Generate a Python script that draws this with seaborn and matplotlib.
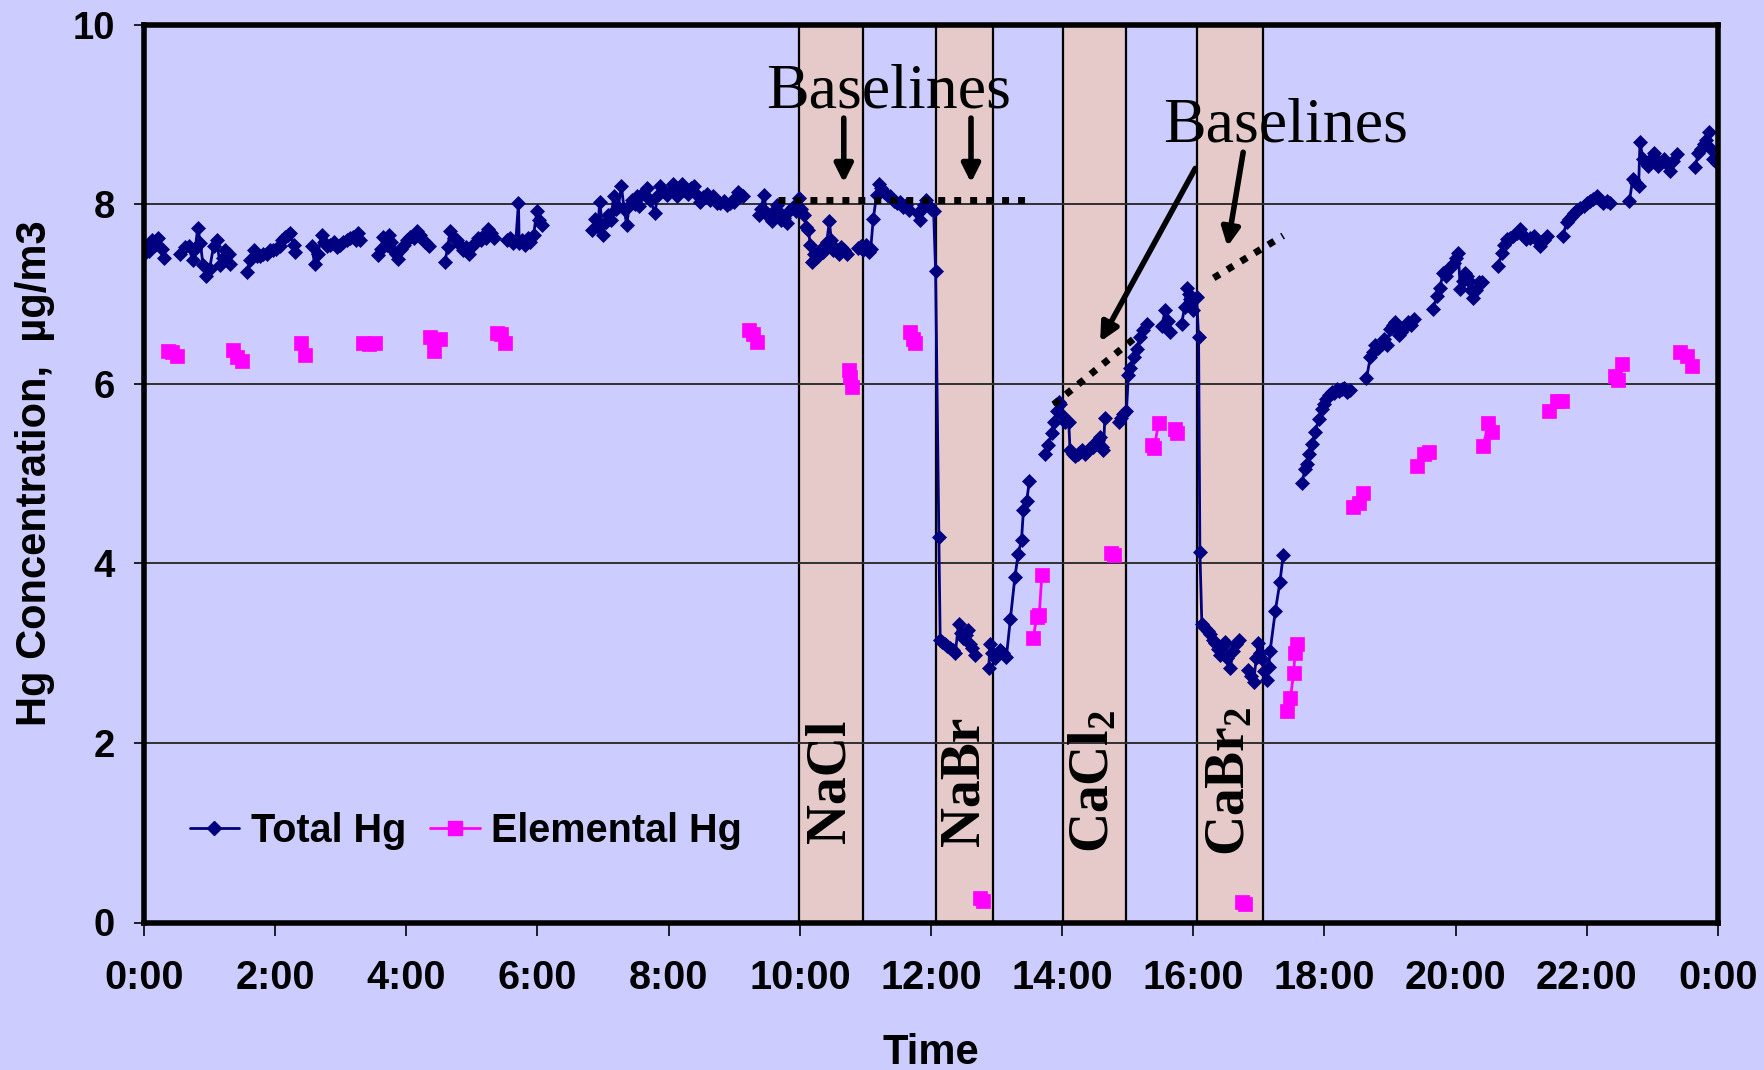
import numpy as np
import pandas as pd
import matplotlib
matplotlib.use("Agg")
import matplotlib.pyplot as plt
import seaborn as sns
from matplotlib.lines import Line2D

nan = np.nan

# ---------------- data (hours after midnight, ug/m3); nan = gap in the record
total_hours = [
    0.00, 0.04, 0.08, 0.12, 0.17, 0.22, 0.27, 0.31, nan,
    0.55, 0.62, 0.68, 0.74, 0.78, 0.82, 0.86, 0.90, 0.95, 1.00, 1.06, 1.11, 1.16, 1.20, 1.24, 1.29, 1.31, nan,
    1.57, 1.62, 1.67, 1.72, 1.77, 1.82, 1.87, 1.92, 1.97, 2.02, 2.07, 2.11, 2.15, 2.20, 2.23, 2.28, 2.30, nan,
    2.56, 2.60, 2.65, 2.71, 2.75, 2.79, 2.84, 2.89, 2.94, 2.99, 3.04, 3.09, 3.14, 3.19, 3.23, 3.27, 3.30, nan,
    3.57, 3.61, 3.65, 3.70, 3.73, 3.77, 3.80, 3.84, 3.88, 3.92, 3.96, 4.01, 4.06, 4.11, 4.16, 4.21, 4.23, 4.28, 4.34, nan,
    4.59, 4.63, 4.67, 4.72, 4.77, 4.82, 4.87, 4.91, 4.95, 4.99, 5.02, 5.06, 5.10, 5.14, 5.18, 5.22, 5.25, 5.29, 5.33, nan,
    5.53, 5.58, 5.63, 5.67, 5.71, 5.72, 5.77, 5.81, 5.85, 5.89, 5.94, 5.99, 6.03, 6.07, nan,
    6.83, 6.88, 6.92, 6.95, 7.00, 7.04, 7.08, 7.12, 7.16, 7.20, 7.23, 7.28, 7.32, 7.36, 7.40, 7.44, 7.48, 7.51,
    7.55, 7.60, 7.67, 7.72, 7.79, 7.83, 7.87, 7.92, 7.97, 8.02, 8.07, 8.12, 8.16, 8.20, 8.25, 8.30, 8.34, 8.38,
    8.43, 8.48, 8.53, 8.58, 8.63, 8.68, 8.73, 8.78, 8.84, 8.89, 8.94, 8.99, 9.03, 9.06, 9.10, 9.14, nan,
    9.37, 9.41, 9.45, 9.50, 9.54, 9.57, 9.61, 9.65, 9.69, 9.72, 9.76, 9.80, 9.85, 9.90, 9.94, 9.98, 10.02, 10.06,
    10.10, 10.13, 10.16, 10.18, 10.21, 10.25, 10.28, 10.32, 10.36, 10.41, 10.45, 10.48, 10.51, 10.55, 10.59,
    10.63, 10.67, 10.72, nan,
    10.89, 10.93, 10.97, 11.01, 11.05, 11.08, 11.12, 11.17, 11.20, 11.24, 11.28, 11.33, 11.38, 11.43, 11.48,
    11.53, 11.58, 11.62, 11.66, nan,
    11.80, 11.83, 11.87, 11.90, 11.93, 11.97, 12.00, 12.04, 12.07, 12.12, 12.14, 12.17, 12.21, 12.25, 12.29,
    12.33, 12.37, 12.42, 12.45, 12.49, 12.53, 12.57, 12.60, 12.62, 12.67, nan,
    12.88, 12.90, 12.93, 12.97, 13.00, 13.05, 13.10, 13.15, 13.21, 13.28, 13.33, 13.38, 13.41, 13.46, 13.50, nan,
    13.74, 13.79, 13.84, 13.88, 13.92, 13.95, 13.97, 14.00, 14.04, 14.10, 14.12, 14.16, 14.20, 14.24, 14.27,
    14.31, 14.35, 14.39, 14.43, 14.47, 14.50, 14.54, 14.58, 14.61, 14.63, 14.65, nan,
    14.86, 14.90, 14.93, 14.98, 15.01, 15.04, 15.09, 15.14, 15.19, 15.24, 15.29, nan,
    15.52, 15.57, 15.61, 15.65, nan,
    15.82, 15.87, 15.90, 15.93, 15.95, 16.00, 16.05, 16.08, 16.10, 16.13, 16.18, 16.22, 16.26, 16.30, 16.33,
    16.37, 16.41, 16.45, 16.48, 16.52, 16.56, 16.61, 16.65, 16.69, nan,
    16.84, 16.88, 16.92, 16.96, 16.99, 17.02, 17.04, 17.08, 17.12, 17.15, 17.17, 17.25, 17.32, 17.37, nan,
    17.66, 17.70, 17.73, 17.77, 17.81, 17.86, 17.91, 17.96, 18.00, 18.03, 18.07, 18.11, 18.15, 18.19, 18.22,
    18.26, 18.30, 18.34, 18.39, nan,
    18.64, 18.70, 18.74, 18.77, 18.82, 18.87, 18.91, 18.95, 19.00, 19.04, 19.08, 19.13, 19.17, 19.20, 19.24,
    19.28, 19.32, 19.36, nan,
    19.66, 19.71, 19.76, 19.81, 19.85, 19.89, 19.93, 19.97, 20.01, 20.04, 20.07, 20.11, 20.14, 20.17, 20.20,
    20.24, 20.27, 20.31, 20.35, 20.40, nan,
    20.65, 20.70, 20.74, 20.78, 20.83, 20.88, 20.93, 20.98, 21.03, 21.08, 21.13, 21.19, 21.24, 21.29, 21.34, 21.39, nan,
    21.64, 21.69, 21.73, 21.77, 21.81, 21.85, 21.90, 21.95, 22.00, 22.05, 22.10, 22.15, 22.20, 22.25, 22.30, 22.36, nan,
    22.65, 22.70, 22.75, 22.79, 22.81, 22.86, 22.90, 22.94, 22.98, 23.02, 23.06, 23.09, 23.13, 23.17, 23.22,
    23.27, 23.32, 23.37, nan,
    23.65, 23.70, 23.74, 23.78, 23.82, 23.86, 23.90, 23.93, 23.98,
]
total_hg = [
    7.45, 7.52, 7.48, 7.60, 7.55, 7.63, 7.50, 7.40, nan,
    7.45, 7.52, 7.53, 7.38, 7.50, 7.74, 7.57, 7.32, 7.20, 7.28, 7.53, 7.60, 7.32, 7.40, 7.49, 7.45, 7.34, nan,
    7.25, 7.38, 7.49, 7.42, 7.42, 7.45, 7.45, 7.49, 7.49, 7.50, 7.53, 7.60, 7.64, 7.66, 7.68, 7.55, 7.47, nan,
    7.53, 7.34, 7.45, 7.66, 7.58, 7.53, 7.55, 7.58, 7.52, 7.55, 7.58, 7.60, 7.62, 7.64, 7.60, 7.68, 7.60, nan,
    7.43, 7.50, 7.64, 7.55, 7.66, 7.58, 7.49, 7.45, 7.39, 7.50, 7.55, 7.60, 7.64, 7.62, 7.70, 7.66, 7.62, 7.58, 7.53, nan,
    7.36, 7.52, 7.70, 7.62, 7.60, 7.55, 7.49, 7.52, 7.45, 7.52, 7.55, 7.58, 7.62, 7.60, 7.66, 7.62, 7.72, 7.68, 7.62, nan,
    7.60, 7.62, 7.57, 7.60, 8.02, 7.57, 7.60, 7.55, 7.62, 7.58, 7.66, 7.92, 7.82, 7.77, nan,
    7.71, 7.84, 7.75, 8.03, 7.66, 7.80, 7.88, 7.82, 8.09, 7.95, 7.97, 8.20, 7.95, 7.77, 7.98, 8.05, 8.00, 8.09,
    7.98, 8.12, 8.18, 8.05, 7.90, 8.10, 8.20, 8.15, 8.10, 8.15, 8.23, 8.09, 8.18, 8.23, 8.15, 8.12, 8.18, 8.20,
    8.10, 8.03, 8.08, 8.12, 8.05, 8.09, 8.02, 8.01, 8.04, 7.99, 8.02, 8.03, 8.08, 8.14, 8.10, 8.09, nan,
    7.88, 7.95, 8.10, 7.90, 7.85, 7.81, 7.92, 7.99, 7.90, 7.83, 7.85, 7.79, 7.94, 7.97, 7.92, 8.07, 7.95, 7.88,
    7.75, 7.71, 7.55, 7.36, 7.45, 7.40, 7.42, 7.50, 7.47, 7.58, 7.81, 7.60, 7.49, 7.50, 7.45,
    7.52, 7.49, 7.45, nan,
    7.51, 7.53, 7.49, 7.55, 7.47, 7.50, 7.84, 8.10, 8.23, 8.18, 8.14, 8.10, 8.09, 8.04, 8.01,
    8.03, 7.97, 7.99, 7.94, nan,
    7.90, 7.82, 7.95, 7.99, 8.05, 7.98, 7.95, 7.92, 7.26, 4.29, 3.15, 3.13, 3.10, 3.08, 3.06,
    3.03, 3.00, 3.32, 3.22, 3.17, 3.20, 3.26, 3.10, 3.06, 2.98, nan,
    2.83, 3.10, 3.00, 2.95, 2.98, 3.04, 3.00, 2.96, 3.38, 3.85, 4.11, 4.26, 4.60, 4.70, 4.92, nan,
    5.22, 5.32, 5.45, 5.58, 5.70, 5.80, 5.77, 5.65, 5.58, 5.58, 5.26, 5.22, 5.20, 5.22, 5.24,
    5.26, 5.22, 5.26, 5.28, 5.30, 5.34, 5.38, 5.41, 5.30, 5.26, 5.62, nan,
    5.58, 5.62, 5.66, 5.70, 6.10, 6.18, 6.30, 6.39, 6.52, 6.60, 6.67, nan,
    6.64, 6.82, 6.70, 6.58, nan,
    6.67, 6.86, 7.07, 7.00, 6.94, 6.82, 6.97, 6.52, 4.13, 3.32, 3.28, 3.25, 3.21, 3.15, 3.11,
    3.05, 2.98, 3.08, 3.13, 2.95, 2.83, 3.02, 3.10, 3.15, nan,
    2.81, 2.75, 2.68, 2.95, 3.11, 3.00, 2.94, 2.80, 2.70, 2.85, 3.02, 3.47, 3.79, 4.09, nan,
    4.90, 5.05, 5.11, 5.22, 5.33, 5.46, 5.61, 5.72, 5.78, 5.83, 5.88, 5.91, 5.90, 5.94, 5.92,
    5.94, 5.95, 5.91, 5.93, nan,
    6.06, 6.30, 6.35, 6.43, 6.40, 6.44, 6.50, 6.43, 6.61, 6.65, 6.69, 6.54, 6.58, 6.61, 6.65,
    6.69, 6.66, 6.72, nan,
    6.83, 6.98, 7.07, 7.24, 7.20, 7.28, 7.30, 7.35, 7.40, 7.46, 7.06, 7.15, 7.24, 7.20, 7.15,
    7.05, 6.96, 7.05, 7.13, 7.13, nan,
    7.31, 7.46, 7.55, 7.61, 7.63, 7.65, 7.68, 7.72, 7.66, 7.61, 7.63, 7.65, 7.60, 7.54, 7.60, 7.65, nan,
    7.65, 7.80, 7.84, 7.87, 7.90, 7.94, 7.96, 7.98, 8.01, 8.04, 8.06, 8.09, 8.05, 8.02, 8.04, 8.02, nan,
    8.04, 8.28, 8.24, 8.20, 8.69, 8.50, 8.46, 8.43, 8.50, 8.57, 8.50, 8.43, 8.47, 8.50, 8.45,
    8.37, 8.48, 8.56, nan,
    8.41, 8.57, 8.62, 8.67, 8.72, 8.80, 8.62, 8.50, 8.46,
]

elem_hours = [
    0.37, 0.42, 0.50, nan, 1.36, 1.42, 1.49, nan, 2.40, 2.46, nan, 3.34, 3.43, 3.52, nan,
    4.36, 4.42, 4.51, nan, 5.38, 5.45, 5.51, nan, 9.22, 9.28, 9.34, nan, 10.75, 10.77, 10.79, nan,
    11.68, 11.72, 11.76, nan, 12.75, 12.79, nan, 13.56, 13.61, 13.65, 13.69, nan, 14.75, 14.79, nan,
    15.37, 15.40, 15.47, nan, 15.72, 15.75, nan, 16.74, 16.79, nan, 17.43, 17.48, 17.53, 17.55, 17.58, nan,
    18.44, 18.52, 18.59, nan, 19.41, 19.51, 19.59, nan, 20.42, 20.50, 20.55, nan,
    21.42, 21.54, 21.62, nan, 22.43, 22.48, 22.53, nan, 23.42, 23.52, 23.60,
]
elem_hg = [
    6.37, 6.36, 6.31, nan, 6.38, 6.30, 6.25, nan, 6.45, 6.32, nan, 6.45, 6.44, 6.45, nan,
    6.52, 6.37, 6.50, nan, 6.57, 6.55, 6.46, nan, 6.60, 6.56, 6.47, nan, 6.15, 6.08, 5.97, nan,
    6.58, 6.50, 6.45, nan, 0.27, 0.24, nan, 3.17, 3.40, 3.42, 3.87, nan, 4.12, 4.09, nan,
    5.32, 5.28, 5.56, nan, 5.50, 5.45, nan, 0.23, 0.21, nan, 2.36, 2.50, 2.78, 3.00, 3.10, nan,
    4.63, 4.67, 4.78, nan, 5.09, 5.22, 5.24, nan, 5.31, 5.56, 5.46, nan,
    5.70, 5.81, 5.81, nan, 6.09, 6.04, 6.22, nan, 6.35, 6.31, 6.20,
]

band_start = [9.99, 12.07, 14.02, 16.06]
band_end = [10.96, 12.95, 14.97, 17.06]
band_names = ["NaCl", "NaBr", "CaCl$_2$", "CaBr$_2$"]

xtick_hours = list(range(0, 25, 2))
xtick_labels = ["0:00", "2:00", "4:00", "6:00", "8:00", "10:00", "12:00",
                "14:00", "16:00", "18:00", "20:00", "22:00", "0:00"]
ytick_values = [0, 2, 4, 6, 8, 10]

# annotation geometry (hours, concentration)
baseline_flat = ([9.66, 13.45], [8.05, 8.05])
baseline_slope_a = ([13.87, 15.19], [5.77, 6.56])
baseline_slope_b = ([16.31, 17.37], [7.18, 7.65])
arrows = [((10.67, 8.96), (10.67, 8.24)),
          ((12.61, 8.96), (12.61, 8.24)),
          ((16.03, 8.40), (14.58, 6.47)),
          ((16.76, 8.58), (16.52, 7.53))]
baseline_text_pos = [(11.36, 9.25), (17.41, 8.87)]

# ---------------- styling
sns.set_theme(style="white")
plt.rcParams["font.family"] = ["Liberation Sans", "DejaVu Sans"]
plt.rcParams["mathtext.fontset"] = "custom"
plt.rcParams["mathtext.rm"] = "Liberation Serif:bold"
plt.rcParams["mathtext.default"] = "rm"
for key in ["text.color", "axes.labelcolor", "xtick.color", "ytick.color"]:
    plt.rcParams[key] = "black"

BG = "#CCCCFF"
BAND = "#E6CACA"
NAVY = "#000080"
MAG = "#FF00FF"

W, H = 1764, 1070
fig = plt.figure(figsize=(W / 100, H / 100), dpi=100, facecolor=BG)
ax = fig.add_axes([144 / W, 1 - 922.5 / H, (1718 - 144) / W, (922.5 - 24.75) / H])
ax.set_facecolor(BG)


def to_df(hours, vals):
    df = pd.DataFrame({"hour": hours, "hg": vals})
    df["seg"] = df["hour"].isna().cumsum()
    return df.dropna().reset_index(drop=True)


tot = to_df(total_hours, total_hg)
ele = to_df(elem_hours, elem_hg)

# bands
for s, e in zip(band_start, band_end):
    ax.axvspan(s, e, facecolor=BAND, edgecolor="black", lw=1.6, zorder=1)

# horizontal grid
for v in [2, 4, 6, 8]:
    ax.axhline(v, color="#303030", lw=1.4, zorder=1.5)

sns.lineplot(data=tot, x="hour", y="hg", units="seg", estimator=None, sort=False,
             color=NAVY, lw=2, marker="D", markersize=7.5, markeredgecolor=NAVY,
             markeredgewidth=0.5, legend=False, ax=ax, zorder=3)
sns.lineplot(data=ele, x="hour", y="hg", units="seg", estimator=None, sort=False,
             color=MAG, lw=2, marker="s", markersize=10, markeredgecolor=MAG,
             markeredgewidth=0.5, legend=False, ax=ax, zorder=3)

# dotted baselines
for xs, ys in [baseline_flat, baseline_slope_a, baseline_slope_b]:
    ax.plot(xs, ys, color="black", lw=5, linestyle=(0, (1, 1.3)),
            dash_capstyle="butt", zorder=4)

# arrows
for (x0, y0), (x1, y1) in arrows:
    ax.annotate("", xy=(x1, y1), xytext=(x0, y0),
                arrowprops=dict(arrowstyle="-|>,head_length=0.6,head_width=0.3",
                                mutation_scale=18, lw=4, color="black",
                                shrinkA=0, shrinkB=0), zorder=5)

for (x, y) in baseline_text_pos:
    ax.text(x, y, "Baselines", ha="center", va="center", fontsize=46, color="black",
            family=["Liberation Serif"], fontweight="normal", zorder=5)

# band labels
for s, e, name in zip(band_start, band_end, band_names):
    ax.text((s + e) / 2, 1.57, name, rotation=90, ha="center", va="center", color="black",
            fontsize=40, fontweight="bold", family=["Liberation Serif"], zorder=5)

# axes
ax.set_xlim(0, 24)
ax.set_ylim(0, 10)
ax.set_xticks(xtick_hours)
ax.set_xticklabels(xtick_labels)
ax.set_yticks(ytick_values)
ax.set_yticklabels([str(v) for v in ytick_values])
ax.tick_params(axis="x", direction="out", length=9, width=1.2, pad=17,
               labelsize=28.5, color="black", labelcolor="black", bottom=True)
ax.tick_params(axis="y", direction="out", length=7, width=1.2, pad=14,
               labelsize=27.5, color="black", labelcolor="black", left=True)
for lab in ax.get_xticklabels() + ax.get_yticklabels():
    lab.set_fontweight("bold")
for sp in ax.spines.values():
    sp.set_visible(True)
    sp.set_color("black")
    sp.set_linewidth(4)
    sp.set_zorder(6)

ax.set_xlabel("Time", fontsize=30, fontweight="bold", va="center", color="black")
ax.xaxis.set_label_coords(0.5, (922.5 - 1053) / 897.75)
ax.set_ylabel("Hg Concentration,  µg/m3", fontsize=30, fontweight="bold", va="center",
              color="black")
ax.yaxis.set_label_coords((35 - 144) / 1574, 0.5)

handles = [Line2D([], [], color=NAVY, lw=2, marker="D", markersize=7),
           Line2D([], [], color=MAG, lw=2, marker="s", markersize=9.5)]
leg = ax.legend(handles, ["Total Hg", "Elemental Hg"], loc="center left",
                bbox_to_anchor=(0.029, 0.102), ncol=2, frameon=False,
                prop={"size": 28.5, "weight": "bold"}, handlelength=1.25,
                handletextpad=0.3, columnspacing=0.6, borderpad=0, borderaxespad=0,
                labelcolor="black")

fig.savefig("out.png", dpi=100, facecolor=BG)
